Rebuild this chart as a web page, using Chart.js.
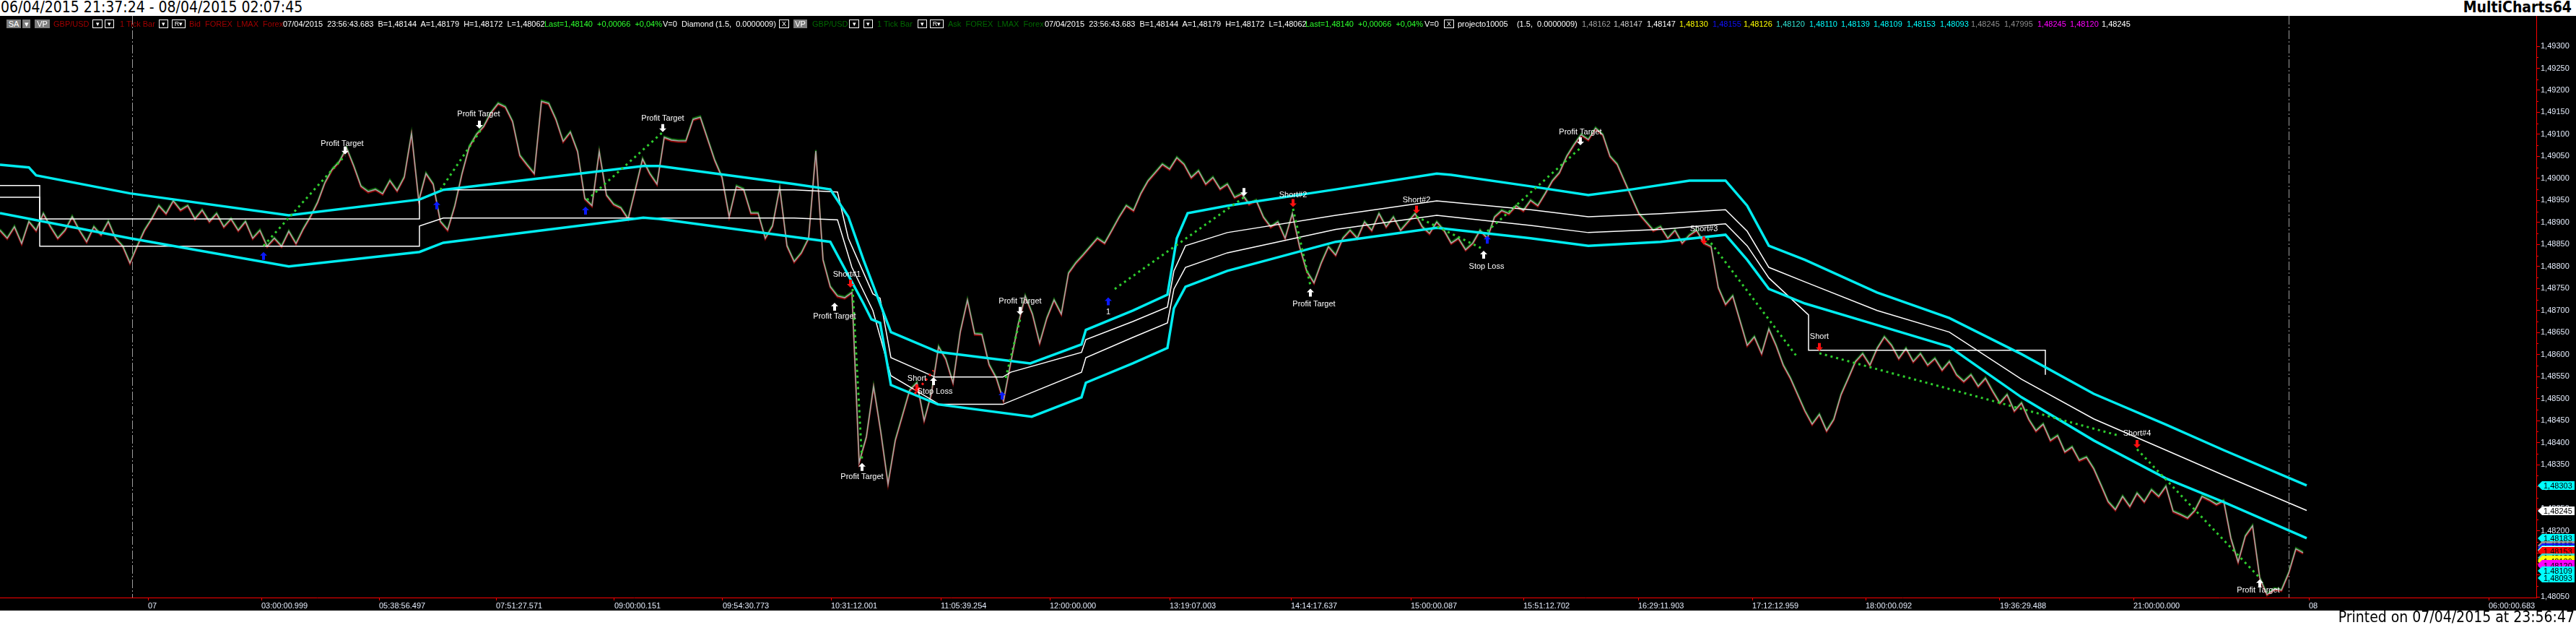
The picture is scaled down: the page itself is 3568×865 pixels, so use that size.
<!DOCTYPE html>
<html>
<head>
<meta charset="utf-8">
<script src="https://cdn.jsdelivr.net/npm/chart.js@4.4.1/dist/chart.umd.min.js"></script>
<style>
html, body { margin: 0; padding: 0; background: #fff; }
body { width: 3568px; height: 865px; position: relative; overflow: hidden; font-family: "Liberation Sans", Arial, sans-serif; }
#title { position: absolute; left: 1px; top: -2px; font: 21px "Liberation Sans Narrow", "DejaVu Sans Condensed", sans-serif; color: #000; }
#brand { position: absolute; right: 6px; top: -2px; font: bold 21px "Liberation Sans Narrow", "DejaVu Sans Condensed", sans-serif; color: #000; }
#printed { position: absolute; right: 2px; top: 842px; font: 21px "Liberation Sans Narrow", "DejaVu Sans Condensed", sans-serif; color: #000; }
#plot { position: absolute; left: 0; top: 22px; width: 3568px; height: 823px; background: #000; }
#plot canvas { position: absolute; left: 0; top: 0; }
#hdr span { position: absolute; top: 5px; font-size: 11px; line-height: 12px; height: 12px; white-space: pre; z-index: 2; }
#hdr .box { border: 1px solid #fff; height: 10px; line-height: 10px; color: #fff; text-align: center; font-size: 9px; }
#hdr .gray { background: #7d7d7d; color: #fff; text-align: center; }
</style>
</head>
<body>
<div id="title">06/04/2015 21:37:24 - 08/04/2015 02:07:45</div>
<div id="brand">MultiCharts64</div>
<div id="plot">
  <canvas id="c" width="3568" height="823"></canvas>
  <div id="hdr">
    <span class="gray" style="left:9px;width:20px">SA</span><span class="gray" style="left:31px;width:11px">▾</span>
    <span class="gray" style="left:48px;width:21px">VP</span>
    <span style="left:74px;color:#a00000">GBP/USD</span>
    <span class="box" style="left:128px;width:12px">▾</span>
    <span class="box" style="left:145px;width:11px">▾</span>
    <span style="left:166px;color:#a00000">1 Tick Bar</span>
    <span class="box" style="left:220px;width:11px">▾</span>
    <span class="box" style="left:238px;width:17px">R▾</span>
    <span style="left:262px;color:#a00000">Bid  FOREX  LMAX  Forex</span>
    <span style="left:392px;color:#fff">07/04/2015  23:56:43.683  B=1,48144  A=1,48179  H=1,48172  L=1,48062</span>
    <span style="left:754px;color:#2dff2d">Last=1,48140  +0,00066  +0,04%</span>
    <span style="left:918px;color:#fff">V=0  Diamond (1.5,  0.0000009)</span>
    <span class="box" style="left:1079px;width:12px">X</span>
    <span class="gray" style="left:1099px;width:19px">VP</span>
    <span style="left:1125px;color:#006800">GBP/USD</span>
    <span class="box" style="left:1176px;width:12px">▾</span>
    <span class="box" style="left:1196px;width:11px">▾</span>
    <span style="left:1215px;color:#006800">1 Tick Bar</span>
    <span class="box" style="left:1271px;width:11px">▾</span>
    <span class="box" style="left:1288px;width:17px">R▾</span>
    <span style="left:1313px;color:#006800">Ask  FOREX  LMAX  Forex</span>
    <span style="left:1447px;color:#fff">07/04/2015  23:56:43.683  B=1,48144  A=1,48179  H=1,48172  L=1,48062</span>
    <span style="left:1808px;color:#2dff2d">Last=1,48140  +0,00066  +0,04%</span>
    <span style="left:1973px;color:#fff">V=0</span>
    <span class="box" style="left:2000px;width:12px">X</span>
    <span style="left:2019px;color:#fff">projecto10005    (1.5,  0.0000009)</span>
    <span style="left:2191px;color:#a0a0a0">1,48162</span>
    <span style="left:2235px;color:#c8c8c8">1,48147</span>
    <span style="left:2281px;color:#fff">1,48147</span>
    <span style="left:2326px;color:#ffff00">1,48130</span>
    <span style="left:2372px;color:#1010ff">1,48155</span>
    <span style="left:2415px;color:#ffff00">1,48126</span>
    <span style="left:2460px;color:#30e0d0">1,48120</span>
    <span style="left:2506px;color:#00ffff">1,48110</span>
    <span style="left:2550px;color:#00ffff">1,48139</span>
    <span style="left:2595px;color:#00ffff">1,48109</span>
    <span style="left:2641px;color:#00ffff">1,48153</span>
    <span style="left:2687px;color:#00ffff">1,48093</span>
    <span style="left:2730px;color:#8c8c8c">1,48245</span>
    <span style="left:2776px;color:#8c8c8c">1,47995</span>
    <span style="left:2822px;color:#ff00ff">1,48245</span>
    <span style="left:2867px;color:#ff00ff">1,48120</span>
    <span style="left:2911px;color:#fff">1,48245</span>
  </div>
</div>
<div id="printed">Printed on 07/04/2015 at 23:56:47</div>

<script>
// ---------------- DATA ----------------
// x = bar number (sampled tick series), y = GBP/USD price

const X_MAX = 351.3;
const Y_MIN = 1.480484;
const Y_MAX = 1.493689;

const yTicks = [1.4805, 1.481, 1.4815, 1.482, 1.4825, 1.483, 1.4835, 1.484, 1.4845, 1.485, 1.4855, 1.486,
  1.4865, 1.487, 1.4875, 1.488, 1.4885, 1.489, 1.4895, 1.49, 1.4905, 1.491, 1.4915, 1.492, 1.4925, 1.493];

const xTickPos = [20.5, 36.2, 52.5, 68.7, 85.1, 100.1, 115.1, 130.3, 145.4, 162.0, 178.8, 195.4, 211.0,
  226.9, 242.7, 258.4, 277.0, 295.5, 319.8, 344.7];
const xTickLabels = ['07', '03:00:00.999', '05:38:56.497', '07:51:27.571', '09:00:00.151', '09:54:30.773',
  '10:31:12.001', '11:05:39.254', '12:00:00.000', '13:19:07.003', '14:14:17.637', '15:00:00.087',
  '15:51:12.702', '16:29:11.903', '17:12:12.959', '18:00:00.092', '19:36:29.488', '21:00:00.000', '08', '06:00:00.683'];

const dayBreaks = [18.3, 317.0];

const price = [
  1.48882,1.48864,1.48890,1.48852,1.48902,1.48882,1.48920,1.48890,1.48864,1.48882,
  1.48913,1.48882,1.48856,1.48890,1.48872,1.48902,1.48864,1.48846,1.48808,1.48846,
  1.48882,1.48908,1.48938,1.48920,1.48949,1.48928,1.48938,1.48908,1.48928,1.48902,
  1.48920,1.48890,1.48908,1.48882,1.48902,1.48864,1.48882,1.48846,1.48864,1.48846,
  1.48880,1.48852,1.48885,1.48913,1.48946,1.48990,1.49020,1.49038,1.49069,1.49028,
  1.48982,1.48970,1.48975,1.48965,1.48995,1.48972,1.49003,1.49102,1.48949,1.49011,
  1.48987,1.48902,1.48883,1.48938,1.49011,1.49072,1.49100,1.49118,1.49149,1.49170,
  1.49162,1.49129,1.49052,1.49031,1.49011,1.49175,1.49170,1.49134,1.49084,1.49105,
  1.49061,1.48954,1.48938,1.49061,1.48962,1.48941,1.48933,1.48908,1.48975,1.49044,
  1.49011,1.48987,1.49093,1.49087,1.49085,1.49085,1.49134,1.49139,1.49090,1.49041,
  1.49003,1.48913,1.48982,1.48975,1.48921,1.48921,1.48864,1.48892,1.48979,1.48847,
  1.48811,1.48831,1.48864,1.49062,1.48815,1.48754,1.48733,1.48729,1.48741,1.48355,
  1.48413,1.48528,1.48424,1.48306,1.48405,1.48462,1.48519,1.48536,1.48450,1.48511,
  1.48618,1.48590,1.48536,1.48651,1.48724,1.48647,1.48646,1.48577,1.48547,1.48495,
  1.48582,1.48667,1.48733,1.48692,1.48626,1.48683,1.48724,1.48692,1.48785,1.48808,
  1.48826,1.48845,1.48864,1.48853,1.48882,1.48912,1.48938,1.48927,1.48965,1.48994,
  1.49013,1.49032,1.49021,1.49047,1.49032,1.49002,1.49017,1.48987,1.49002,1.48976,
  1.48987,1.48957,1.48965,1.48942,1.48950,1.48912,1.48890,1.48901,1.48864,1.48920,
  1.48845,1.48789,1.48763,1.48808,1.48845,1.48826,1.48864,1.48882,1.48864,1.48901,
  1.48882,1.48920,1.48890,1.48912,1.48882,1.48901,1.48920,1.48890,1.48875,1.48901,
  1.48882,1.48853,1.48864,1.48838,1.48853,1.48882,1.48864,1.48912,1.48927,1.48920,
  1.48938,1.48927,1.48950,1.48938,1.48965,1.48994,1.49013,1.49050,1.49076,1.49099,
  1.49088,1.49114,1.49099,1.49050,1.49032,1.48994,1.48957,1.48920,1.48901,1.48882,
  1.48890,1.48864,1.48882,1.48853,1.48871,1.48882,1.48853,1.48845,1.48752,1.48714,
  1.48733,1.48677,1.48621,1.48640,1.48602,1.48658,1.48621,1.48576,1.48546,1.48509,
  1.48472,1.48442,1.48464,1.48427,1.48453,1.48509,1.48546,1.48584,1.48602,1.48576,
  1.48614,1.48640,1.48621,1.48591,1.48614,1.48584,1.48602,1.48576,1.48591,1.48565,
  1.48584,1.48554,1.48539,1.48554,1.48528,1.48546,1.48517,1.48490,1.48509,1.48472,
  1.48490,1.48453,1.48427,1.48442,1.48405,1.48416,1.48379,1.48390,1.48360,1.48367,
  1.48341,1.48304,1.48266,1.48248,1.48278,1.48255,1.48285,1.48266,1.48293,1.48278,
  1.48301,1.48244,1.48237,1.48229,1.48246,1.48278,1.48270,1.48260,1.48268,1.48183,
  1.48129,1.48188,1.48211,1.48093,1.48055,1.48068,1.48065,1.48104,1.48159,1.48150
];

// upper / lower envelope (cyan)
const upperX = [0,4,5,18,40,58.1,61.4,89.1,91.3,110,115,117.5,119.6,121.9,123.4,129.9,142.7,149.8,150.4,156.9,
  161.7,163,164.5,170,185,199,201,212,220,226,234,239,242,245,250,260,270,280,290,300,308,319.5];
const upperV = [1.49031,1.49025,1.49007,1.48966,1.48916,1.48952,1.48974,1.49028,1.49028,1.48987,
  1.48975,1.48913,1.48815,1.48716,1.48651,1.48606,1.48580,1.48623,1.48656,1.48700,
  1.48736,1.48864,1.48921,1.48938,1.48975,1.49011,1.49008,1.48982,1.48962,1.48975,
  1.48995,1.48995,1.48938,1.48847,1.48815,1.48741,1.48683,1.48601,1.48511,1.48441,1.48383,1.48303];

const lowerX = [0,18,40,58.1,61.4,89.1,91.3,110,115,119.6,120.7,121.9,123.4,129.9,142.9,149.8,150.4,156.9,161.7,
  162.6,164.2,170,185,199,212,220,230,239,242,245,250,260,270,280,290,300,308,319.5];
const lowerV = [1.48921,1.48864,1.48800,1.48833,1.48854,1.48911,1.48908,1.48867,1.48856,1.48716,
  1.48680,1.48672,1.48531,1.48487,1.48459,1.48503,1.48536,1.48580,1.48615,1.48705,
  1.48754,1.48790,1.48856,1.48888,1.48864,1.48847,1.48856,1.48872,1.48815,1.48749,
  1.48716,1.48667,1.48618,1.48503,1.48405,1.48319,1.48265,1.48183];

// inner channel (white)
const innerHiX = [0,5.5,5.5,58.1,58.1,61.4,110,116,117.5,120.9,121.9,123.4,129.5,138.9,140,149.8,150.4,156.9,161.7,
  162.6,164.2,170,185,199,212,220,230,239,242,245,250,260,270,280,290,300,308,319.5];
const innerHiV = [1.48984,1.48984,1.48908,1.48908,1.48951,1.48974,1.48974,1.48969,1.48864,1.48738,
  1.48728,1.48593,1.48549,1.48549,1.48560,1.48605,1.48634,1.48675,1.48708,1.48790,
  1.48847,1.48877,1.48916,1.48949,1.48929,1.48913,1.48920,1.48929,1.48880,1.48798,
  1.48765,1.48700,1.48651,1.48544,1.48454,1.48383,1.48326,1.48246];

const innerLoX = [0,5.5,5.5,58.1,58.1,61.4,110,116,118,120.9,123.4,130.1,138.9,149.8,150.4,156.9,161.7,162.6,164.2,
  170,185,199,212,220,230,239,242,245,250.5,250.5,283.3,283.3];
const innerLoV = [1.48957,1.48957,1.48846,1.48846,1.48892,1.48910,1.48910,1.48906,1.48798,1.48700,
  1.48552,1.48487,1.48487,1.48560,1.48593,1.48639,1.48672,1.48749,1.48798,1.48831,
  1.48884,1.48916,1.48893,1.48877,1.48884,1.48897,1.48847,1.48774,1.48690,1.48610,1.48610,1.48554];

// trades: entry bar, entry price, exit bar, exit price, colour
const trades = [
  [36.5, 1.48847, 47.8, 1.49052, 'g'],
  [61.0, 1.48974, 66.6, 1.49110, 'g'],
  [81.3, 1.48951, 91.8, 1.49105, 'g'],
  [118.1, 1.48749, 119.4, 1.48360, 'g'],
  [126.7, 1.48511, 129.3, 1.48564, 'r'],
  [139.3, 1.48547, 141.4, 1.48687, 'g'],
  [154.4, 1.48749, 172.3, 1.48957, 'g'],
  [179.1, 1.48931, 181.5, 1.48757, 'g'],
  [196.2, 1.48913, 205.5, 1.48839, 'g'],
  [206.0, 1.48880, 218.9, 1.49069, 'g'],
  [236.5, 1.48864, 249.0, 1.48593, 'g'],
  [252.0, 1.48603, 293.5, 1.48416, 'g'],
  [296.0, 1.48385, 313.0, 1.48093, 'g']
];

// arrows: bar, price, kind (bu = blue up, rd = red down, wu / wd = white up / down)
const arrows = [
  [36.5, 1.48823, 'bu'], [47.8, 1.49064, 'wd'],
  [60.5, 1.48938, 'bu'], [66.4, 1.49123, 'wd'],
  [81.1, 1.48926, 'bu'], [91.8, 1.49115, 'wd'],
  [115.6, 1.48708, 'wu'], [117.8, 1.48762, 'rd'], [119.4, 1.48344, 'wu'],
  [127.0, 1.48524, 'rd'], [129.3, 1.48539, 'wu'],
  [138.8, 1.48506, 'bu'], [141.3, 1.48700, 'wd'],
  [153.5, 1.48720, 'bu'], [172.3, 1.48970, 'wd'],
  [179.1, 1.48945, 'rd'], [181.5, 1.48740, 'wu'],
  [196.2, 1.48930, 'rd'], [205.5, 1.48826, 'wu'],
  [206.0, 1.48860, 'bu'], [218.9, 1.49085, 'wd'],
  [236.0, 1.48860, 'rd'], [252.0, 1.48618, 'rd'],
  [296.0, 1.48398, 'rd'],
  [313.0, 1.48080, 'wu']
];

const notes = [
  [47.4, 1.49079, 'Profit Target'], [66.3, 1.49146, 'Profit Target'], [91.8, 1.49136, 'Profit Target'],
  [115.6, 1.48687, 'Profit Target'], [117.3, 1.48782, 'Short#1'], [119.4, 1.48323, 'Profit Target'],
  [127.0, 1.48546, 'Short'], [129.5, 1.48516, 'Stop Loss'], [141.3, 1.48721, 'Profit Target'],
  [153.5, 1.48697, '1'], [179.1, 1.48962, 'Short#2'], [182.0, 1.48715, 'Profit Target'],
  [196.2, 1.48950, 'Short#2'], [205.9, 1.48800, 'Stop Loss'], [218.9, 1.49105, 'Profit Target'],
  [236.0, 1.48885, 'Short#3'], [252.0, 1.48640, 'Short'], [296.0, 1.48420, 'Short#4'],
  [312.8, 1.48065, 'Profit Target']
];

// price tags on the right axis
const tagValues = [1.48303, 1.48245, 1.48183, 1.48167, 1.48162, 1.48157, 1.48155, 1.48153, 1.48139,
  1.48133, 1.48130, 1.48124, 1.48120, 1.48109, 1.48093];
const tagColors = ['#00ffff', '#ffffff', '#00ffff', '#9a9a9a', '#1a1aff', '#00ffff', '#ffffff', '#ff0000',
  '#40d8c8', '#ffff00', '#ffff00', '#ff00ff', '#ff00ff', '#00ffff', '#00ffff'];

// ---------------- CHART ----------------

const fmt = v => v.toFixed(5).replace('.', ',');
const pts = (xs, vs) => xs.map((x, i) => ({ x: x, y: vs[i] }));
const pricePts = price.map((v, i) => ({ x: i, y: v }));

// first two datasets are the up/down tick shading, drawn slightly shifted
const shade = { 0: -1.5, 1: 1.5 };

const datasets = [
  { data: pricePts, borderColor: '#0b6a0b', borderWidth: 2.2, order: 22 },
  { data: pricePts, borderColor: '#8a0000', borderWidth: 2.2, order: 21 },
  { data: pricePts, borderColor: '#a6a6a6', borderWidth: 1.6, order: 19 },
  { data: pts(innerHiX, innerHiV), borderColor: '#ffffff', borderWidth: 1.5, order: 8 },
  { data: pts(innerLoX, innerLoV), borderColor: '#ffffff', borderWidth: 1.5, order: 8 },
  { data: pts(upperX, upperV), borderColor: '#00ecf0', borderWidth: 3.5, order: 6 },
  { data: pts(lowerX, lowerV), borderColor: '#00ecf0', borderWidth: 3.5, order: 6 }
];
trades.forEach(t => {
  datasets.push({
    data: [{ x: t[0], y: t[1] }, { x: t[2], y: t[3] }],
    borderColor: t[4] === 'r' ? '#ff1a1a' : '#2ecc2e',
    borderWidth: 3,
    borderDash: [3, 5],
    order: 2
  });
});

function drawArrow(ctx, x, y, kind) {
  const col = kind[0] === 'b' ? '#0a1aff' : kind[0] === 'r' ? '#ff1010' : '#ffffff';
  const up = kind[1] === 'u';
  ctx.fillStyle = col;
  ctx.beginPath();
  if (up) {
    ctx.moveTo(x, y - 6); ctx.lineTo(x + 5, y - 1); ctx.lineTo(x + 2, y - 1);
    ctx.lineTo(x + 2, y + 5); ctx.lineTo(x - 2, y + 5); ctx.lineTo(x - 2, y - 1); ctx.lineTo(x - 5, y - 1);
  } else {
    ctx.moveTo(x, y + 6); ctx.lineTo(x + 5, y + 1); ctx.lineTo(x + 2, y + 1);
    ctx.lineTo(x + 2, y - 5); ctx.lineTo(x - 2, y - 5); ctx.lineTo(x - 2, y + 1); ctx.lineTo(x - 5, y + 1);
  }
  ctx.closePath();
  ctx.fill();
}

const extras = {
  id: 'extras',
  beforeDatasetDraw(chart, args) {
    if (shade[args.index] !== undefined) {
      chart.ctx.save();
      chart.ctx.translate(0, shade[args.index]);
    }
  },
  afterDatasetDraw(chart, args) {
    if (shade[args.index] !== undefined) chart.ctx.restore();
  },
  beforeDatasetsDraw(chart) {
    const { ctx, chartArea, scales } = chart;
    ctx.save();
    ctx.strokeStyle = '#9c9c9c';
    ctx.lineWidth = 1;
    ctx.setLineDash([12, 3, 2, 3]);
    dayBreaks.forEach(d => {
      const x = Math.round(scales.x.getPixelForValue(d)) + 0.5;
      ctx.beginPath();
      ctx.moveTo(x, chartArea.top);
      ctx.lineTo(x, chartArea.bottom);
      ctx.stroke();
    });
    ctx.restore();
  },
  afterDraw(chart) {
    const { ctx, chartArea, scales } = chart;
    ctx.save();
    // minor ticks on the price axis
    ctx.strokeStyle = '#ff0000';
    ctx.lineWidth = 1;
    for (let i = 0; i < yTicks.length - 1; i++) {
      const y = Math.round(scales.y.getPixelForValue((yTicks[i] + yTicks[i + 1]) / 2)) + 0.5;
      ctx.beginPath();
      ctx.moveTo(chartArea.right, y);
      ctx.lineTo(chartArea.right + 3, y);
      ctx.stroke();
    }
    // arrows + captions
    arrows.forEach(a => drawArrow(ctx, scales.x.getPixelForValue(a[0]), scales.y.getPixelForValue(a[1]), a[2]));
    ctx.font = '11px "Liberation Sans", Arial, sans-serif';
    ctx.fillStyle = '#ffffff';
    ctx.textAlign = 'center';
    ctx.textBaseline = 'middle';
    notes.forEach(n => ctx.fillText(n[2], scales.x.getPixelForValue(n[0]), scales.y.getPixelForValue(n[1])));
    // price tags
    ctx.textAlign = 'left';
    tagValues.forEach((v, i) => {
      const y = Math.round(scales.y.getPixelForValue(v));
      const x0 = chartArea.right + 2;
      ctx.fillStyle = tagColors[i];
      ctx.beginPath();
      ctx.moveTo(x0, y);
      ctx.lineTo(x0 + 6, y - 6);
      ctx.lineTo(x0 + 51, y - 6);
      ctx.lineTo(x0 + 51, y + 6);
      ctx.lineTo(x0 + 6, y + 6);
      ctx.closePath();
      ctx.fill();
      ctx.fillStyle = '#000';
      ctx.fillText(fmt(v), x0 + 8, y + 1);
    });
    ctx.restore();
  }
};

new Chart(document.getElementById('c'), {
  type: 'line',
  data: { datasets: datasets },
  options: {
    responsive: false,
    animation: false,
    devicePixelRatio: 1,
    layout: { padding: 0 },
    elements: { point: { radius: 0 }, line: { tension: 0, borderJoinStyle: 'miter' } },
    plugins: { legend: { display: false }, tooltip: { enabled: false } },
    scales: {
      x: {
        type: 'linear',
        min: 0,
        max: X_MAX,
        position: 'bottom',
        afterBuildTicks: s => { s.ticks = xTickPos.map(v => ({ value: v })); },
        afterFit: s => { s.height = 18; s.paddingLeft = 0; s.paddingRight = 0; },
        grid: { drawOnChartArea: false, color: '#ff0000', tickLength: 4 },
        border: { color: '#ff0000', width: 1 },
        ticks: {
          autoSkip: false, maxRotation: 0, minRotation: 0, align: 'start', padding: 1,
          color: '#e4ecfb', font: { family: 'Liberation Sans', size: 11 },
          callback: (v, i) => xTickLabels[i]
        }
      },
      y: {
        type: 'linear',
        position: 'right',
        min: Y_MIN,
        max: Y_MAX,
        afterBuildTicks: s => { s.ticks = yTicks.map(v => ({ value: v })); },
        afterFit: s => { s.width = 55; s.paddingTop = 0; s.paddingBottom = 0; },
        grid: { drawOnChartArea: false, color: '#ff0000', tickLength: 5 },
        border: { color: '#ff0000', width: 1 },
        ticks: {
          padding: 1, color: '#e4ecfb', font: { family: 'Liberation Sans', size: 11 },
          callback: v => fmt(v)
        }
      }
    }
  },
  plugins: [extras]
});
</script>
</body>
</html>
